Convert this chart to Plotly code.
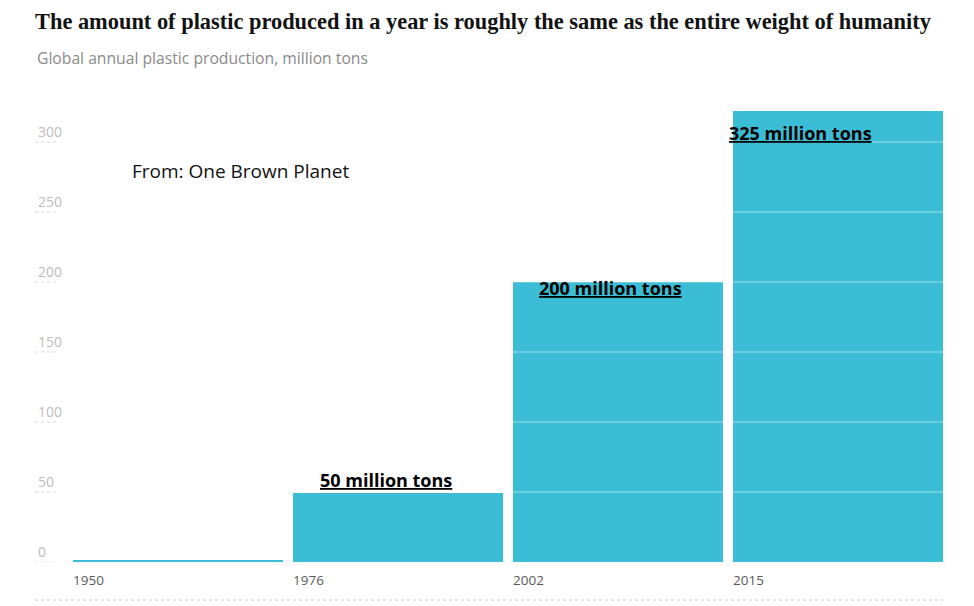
import plotly.graph_objects as go

years = ["1950", "1976", "2002", "2015"]
production = [1.5, 49, 200, 322]
labels = ["", "50 million tons", "200 million tons", "325 million tons"]
y_ticks = [0, 50, 100, 150, 200, 250, 300]

title = "The amount of plastic produced in a year is roughly the same as the entire weight of humanity"
subtitle = "Global annual plastic production, million tons"
source = "From: One Brown Planet"

BAR = "#3bbdd5"
xpos = list(range(len(years)))

W, H = 966, 598  # page body adds an 8px offset

fig = go.Figure()
fig.add_trace(go.Bar(
    x=xpos, y=production, width=0.9545, offset=0,
    marker=dict(color=BAR, line=dict(width=0)),
    hoverinfo="skip", showlegend=False,
))

shapes = []
for v in y_ticks:
    shapes.append(dict(type="line", xref="paper", yref="y", x0=0, x1=0.023, y0=v, y1=v,
                       line=dict(color="#d8d8d8", width=1, dash="dot"), layer="above"))
    if v > 0:
        shapes.append(dict(type="line", xref="paper", yref="y", x0=0.042, x1=1, y0=v, y1=v,
                           line=dict(color="rgba(255,255,255,0.35)", width=1.5), layer="above"))
shapes.append(dict(type="line", xref="paper", yref="paper", x0=0, x1=1, y0=-0.0835, y1=-0.0835,
                   line=dict(color="#c8c8c8", width=1, dash="dot")))

annotations = [
    dict(text=subtitle, xref="paper", yref="paper", x=0, y=1.1077, xanchor="left", yanchor="middle",
         showarrow=False, font=dict(family="Open Sans", size=15.7, color="#8a8a8a")),
    dict(text=source, xref="x", yref="y", x=0.259, y=279, xanchor="left", yanchor="middle",
         showarrow=False, font=dict(family="Open Sans", size=19, color="#111111")),
]
shifts = {1: (25, 13), 2: (24, -6), 3: (-6, -22)}
for i, lab in enumerate(labels):
    if not lab:
        continue
    dx, dy = shifts[i]
    annotations.append(dict(
        text="<b>" + lab + "</b>", xref="x", yref="y", x=xpos[i], y=production[i],
        xanchor="left", yanchor="middle", xshift=dx, yshift=dy,
        showarrow=False,
        font=dict(family="Open Sans", size=18, color="#000000", lineposition="under"),
    ))

fig.update_layout(
    width=W, height=H,
    margin=dict(l=27, r=31, t=99, b=44),
    paper_bgcolor="white", plot_bgcolor="white",
    title=dict(text="<b>" + title + "</b>", x=0, xref="paper", xanchor="left",
               y=1 - 13 / H, yanchor="middle",
               font=dict(family="Liberation Serif", size=22.4, color="#121212")),
    bargap=0,
    shapes=shapes,
    annotations=annotations,
    xaxis=dict(range=[-0.1727, 3.9545], tickmode="array", tickvals=xpos, ticktext=years,
               ticklabelposition="outside right", ticklabelstandoff=8,
               showgrid=False, zeroline=False, showline=False,
               ticks="", tickfont=dict(family="Open Sans", size=13.5, color="#5a5a5a")),
    yaxis=dict(range=[0, 325], tickmode="array", tickvals=y_ticks,
               ticklabelposition="inside top", showgrid=False, zeroline=False, showline=False,
               ticks="", tickfont=dict(family="Open Sans", size=14, color="#bdbdbd")),
)

fig.write_html("out.html")
